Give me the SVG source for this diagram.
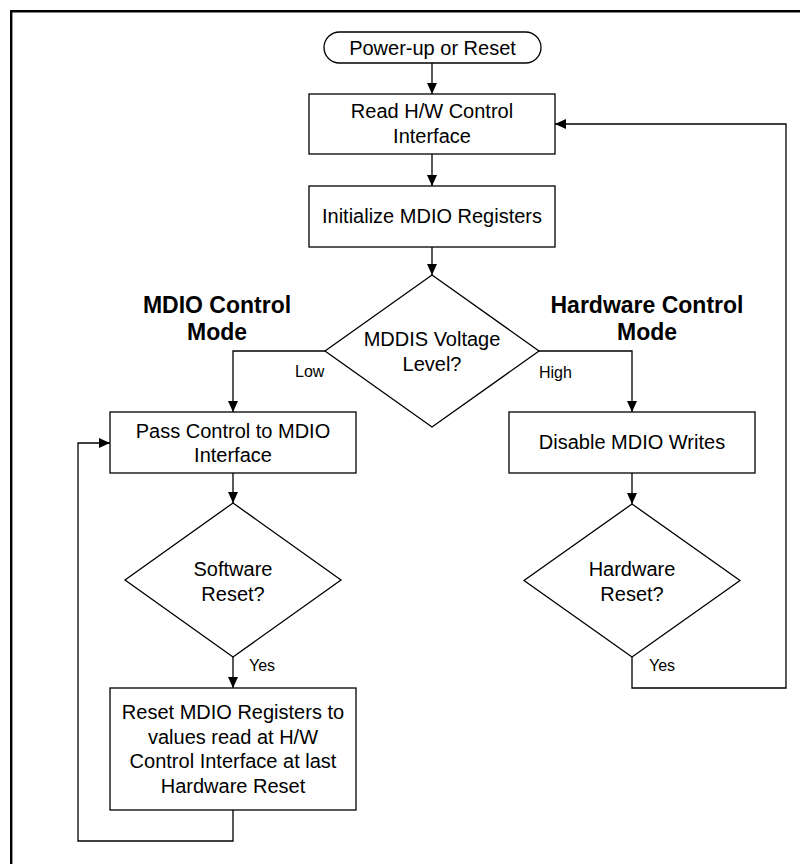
<svg xmlns="http://www.w3.org/2000/svg" width="800" height="864" viewBox="0 0 800 864">
<style>
  .shape { fill: #fff; stroke: #000; stroke-width: 1.3; }
  .conn { fill: none; stroke: #000; stroke-width: 1.3; }
  .t { font-family: "Liberation Sans", Arial, sans-serif; font-size: 20px; fill: #000; text-anchor: middle; }
  .lbl { font-family: "Liberation Sans", Arial, sans-serif; font-size: 16px; fill: #000; }
  .title { font-family: "Liberation Sans", Arial, sans-serif; font-size: 23px; font-weight: bold; fill: #000; text-anchor: middle; }
</style>
<defs>
  <marker id="arr" markerUnits="userSpaceOnUse" markerWidth="11" markerHeight="10" refX="11" refY="5" orient="auto">
    <path d="M0,0 L11,5 L0,10 z" fill="#000"/>
  </marker>
</defs>
<rect x="0" y="0" width="800" height="864" fill="#fff"/>
<path d="M11.2,864 V11.2 H800" fill="none" stroke="#000" stroke-width="2.4"/>

<g id="connectors">
  <path class="conn" d="M432,63 V94" marker-end="url(#arr)"/>
  <path class="conn" d="M432,154 V186" marker-end="url(#arr)"/>
  <path class="conn" d="M432,247 V275" marker-end="url(#arr)"/>
  <path class="conn" d="M325,351 H233 V412" marker-end="url(#arr)"/>
  <path class="conn" d="M539,351 H632 V412" marker-end="url(#arr)"/>
  <path class="conn" d="M233,473 V503" marker-end="url(#arr)"/>
  <path class="conn" d="M233,657 V688" marker-end="url(#arr)"/>
  <path class="conn" d="M233,810 V841 H78 V443 H110" marker-end="url(#arr)"/>
  <path class="conn" d="M632,473 V504" marker-end="url(#arr)"/>
  <path class="conn" d="M632,657 V688 H786 V124 H555" marker-end="url(#arr)"/>
  <text class="lbl" x="295" y="377">Low</text>
  <text class="lbl" x="539" y="378">High</text>
  <text class="lbl" x="249" y="671">Yes</text>
  <text class="lbl" x="649" y="671">Yes</text>
</g>

<g id="title-mdio">
  <text class="title" x="217" y="313">MDIO Control</text>
  <text class="title" x="217" y="340">Mode</text>
</g>
<g id="title-hw">
  <text class="title" x="647" y="313">Hardware Control</text>
  <text class="title" x="647" y="340">Mode</text>
</g>

<g id="start">
  <rect class="shape" x="324" y="32" width="217" height="31" rx="15.5" ry="15.5"/>
  <text class="t" x="432.5" y="54.5">Power-up or Reset</text>
</g>
<g id="read-hw">
  <rect class="shape" x="309" y="94" width="246" height="60"/>
  <text class="t" x="432" y="118">Read H/W Control</text>
  <text class="t" x="432" y="142.5">Interface</text>
</g>
<g id="init-mdio">
  <rect class="shape" x="309" y="186" width="246" height="61"/>
  <text class="t" x="432" y="223">Initialize MDIO Registers</text>
</g>
<g id="mddis">
  <polygon class="shape" points="432,275 539,351 432,427 325,351"/>
  <text class="t" x="432" y="346">MDDIS Voltage</text>
  <text class="t" x="432" y="370.5">Level?</text>
</g>
<g id="pass-control">
  <rect class="shape" x="110" y="412" width="246" height="61"/>
  <text class="t" x="233" y="437.5">Pass Control to MDIO</text>
  <text class="t" x="233" y="462">Interface</text>
</g>
<g id="disable-writes">
  <rect class="shape" x="509" y="412" width="246" height="61"/>
  <text class="t" x="632" y="449">Disable MDIO Writes</text>
</g>
<g id="sw-reset">
  <polygon class="shape" points="233,503 341,580 233,657 125,580"/>
  <text class="t" x="233" y="576">Software</text>
  <text class="t" x="233" y="600.5">Reset?</text>
</g>
<g id="hw-reset">
  <polygon class="shape" points="632,504 740,580.5 632,657 524,580.5"/>
  <text class="t" x="632" y="576">Hardware</text>
  <text class="t" x="632" y="600.5">Reset?</text>
</g>
<g id="reset-regs">
  <rect class="shape" x="110" y="688" width="246" height="122"/>
  <text class="t" x="233" y="719">Reset MDIO Registers to</text>
  <text class="t" x="233" y="743.5">values read at H/W</text>
  <text class="t" x="233" y="768">Control Interface at last</text>
  <text class="t" x="233" y="792.5">Hardware Reset</text>
</g>
</svg>
